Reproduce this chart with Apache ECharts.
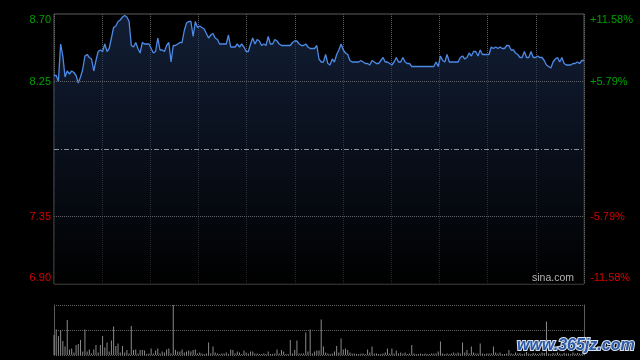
<!DOCTYPE html>
<html><head><meta charset="utf-8">
<script src="https://cdn.jsdelivr.net/npm/echarts@6/dist/echarts.min.js"></script>
<style>html,body{margin:0;padding:0;background:#000}#c{width:640px;height:360px}</style>
</head><body><div id="c"></div>
<script>
// Minute prices (09:30-11:30, 13:01-15:00)
const prices = [
8.29,8.29,8.25,8.50,8.42,8.28,8.32,8.30,8.32,8.31,
8.29,8.24,8.28,8.33,8.42,8.43,8.41,8.40,8.32,8.39,
8.45,8.46,8.45,8.50,8.45,8.47,8.54,8.61,8.62,8.65,
8.66,8.68,8.69,8.68,8.65,8.49,8.48,8.51,8.47,8.44,
8.51,8.50,8.50,8.50,8.47,8.44,8.45,8.54,8.46,8.46,
8.45,8.49,8.51,8.38,8.49,8.49,8.50,8.51,8.51,8.59,
8.64,8.65,8.65,8.55,8.65,8.61,8.62,8.61,8.60,8.57,
8.54,8.56,8.57,8.54,8.53,8.50,8.50,8.50,8.50,8.56,
8.48,8.48,8.48,8.50,8.48,8.50,8.48,8.45,8.45,8.50,
8.54,8.50,8.53,8.52,8.49,8.50,8.49,8.55,8.50,8.50,
8.53,8.52,8.50,8.49,8.49,8.49,8.49,8.49,8.51,8.52,
8.52,8.50,8.49,8.49,8.50,8.48,8.47,8.47,8.47,8.49,
8.40,8.38,8.38,8.43,8.37,8.36,8.40,8.38,8.43,8.46,
8.50,8.46,8.44,8.43,8.39,8.38,8.38,8.38,8.38,8.39,
8.38,8.37,8.37,8.36,8.39,8.38,8.37,8.37,8.39,8.41,
8.38,8.38,8.37,8.36,8.38,8.41,8.38,8.38,8.41,8.38,
8.37,8.37,8.35,8.35,8.35,8.35,8.35,8.35,8.35,8.35,
8.35,8.35,8.35,8.38,8.35,8.42,8.39,8.38,8.43,8.38,
8.38,8.38,8.38,8.38,8.41,8.42,8.40,8.41,8.44,8.42,
8.45,8.45,8.42,8.46,8.43,8.43,8.43,8.43,8.48,8.47,
8.48,8.47,8.48,8.47,8.47,8.49,8.49,8.46,8.46,8.44,
8.43,8.41,8.41,8.45,8.41,8.41,8.45,8.41,8.41,8.42,
8.41,8.41,8.39,8.36,8.35,8.34,8.38,8.40,8.41,8.38,
8.41,8.37,8.36,8.36,8.36,8.37,8.37,8.38,8.37,8.39,8.39
];
// Minute volumes (relative units)
const volumes = [
40,51,38,50,28,17,70,11,13,5,
20,22,30,7,51,7,11,3,11,20,
5,20,38,15,25,7,29,57,18,23,
5,18,5,10,3,58,10,11,3,10,
10,9,2,3,13,3,9,13,3,7,
5,11,13,3,100,10,7,7,11,5,
7,9,7,10,11,3,5,3,2,3,
25,3,17,5,3,2,3,3,5,2,
11,10,3,7,5,2,9,5,3,7,
7,3,3,2,2,3,2,7,2,2,
3,11,3,10,7,2,2,30,3,10,
29,3,3,3,45,7,51,3,7,9,
9,
71,17,5,3,2,3,7,18,5,
33,11,13,10,5,3,3,2,2,3,
3,2,11,5,17,3,3,2,2,3,
5,13,3,13,3,9,3,5,3,5,
2,3,20,3,2,2,3,2,3,2,
2,3,3,3,7,27,3,2,3,2,
3,5,3,5,3,25,5,10,3,17,
5,3,3,23,3,2,3,3,3,17,
5,3,5,2,2,3,10,3,2,5,
3,4,2,3,6,3,2,4,3,2,
3,5,4,67,3,2,4,3,5,3,
2,4,3,3,2,5,3,4,3,2,3
];
const priceMin = 6.90, priceMax = 8.70, prevClose = 7.80;
const priceGridLines = [8.25, 7.35];
const priceTickLabels = ['6.90', '7.35', '', '8.25', '8.70'];
const pctMin = -11.58, pctMax = 11.58, pctInterval = 5.79;
const pctTickLabels = ['-11.58%', '-5.79%', '', '+5.79%', '+11.58%'];
const volMax = 100;

const times = [];
function pad(n){return (n<10?'0':'')+n;}
for (let m = 9*60+30; m <= 11*60+30; m++) times.push(pad(Math.floor(m/60))+':'+pad(m%60));
for (let m = 13*60+1; m <= 15*60; m++) times.push(pad(Math.floor(m/60))+':'+pad(m%60));

const FONT = '"Liberation Sans", Arial, sans-serif';
const GREEN = '#00a000', RED = '#d40000';
const GRID = '#626262';
function rich() {
  const base = {fontSize: 11, fontFamily: FONT};
  return {
    g: Object.assign({color: GREEN}, base),
    gTop: Object.assign({color: GREEN, padding: [12,0,0,0]}, base),
    r: Object.assign({color: RED}, base),
    rBot: Object.assign({color: RED, padding: [0,0,12,0]}, base)
  };
}
function fmt(labels) {
  return function (v, i) {
    const t = labels[i];
    if (!t) return '';
    const key = i === labels.length - 1 ? 'gTop' : i === 0 ? 'rBot' : (i > 2 ? 'g' : 'r');
    return '{' + key + '|' + t + '}';
  };
}

const chart = echarts.init(document.getElementById('c'));
chart.setOption({
  animation: false,
  backgroundColor: '#000',
  grid: [
    {left: 54, right: 56, top: 14, height: 270, show: true, borderColor: '#5c5c5c', borderWidth: 1, backgroundColor: 'transparent'},
    {left: 54, right: 56, top: 305, height: 50}
  ],
  xAxis: [
    {type: 'category', gridIndex: 0, data: times, boundaryGap: false, show: false},
    {type: 'value', gridIndex: 0, min: 0, max: 11, interval: 1, z: 3,
     axisLine: {show: false}, axisTick: {show: false}, axisLabel: {show: false},
     splitLine: {show: true, lineStyle: {color: GRID, type: [1, 1], width: 1}}},
    {type: 'category', gridIndex: 1, data: times, boundaryGap: false, show: false}
  ],
  yAxis: [
    {type: 'value', gridIndex: 0, position: 'left', min: pctMin, max: pctMax, interval: pctInterval,
     axisLine: {show: false}, axisTick: {show: false}, splitLine: {show: false},
     axisLabel: {margin: 3, formatter: fmt(priceTickLabels), rich: rich()}},
    {type: 'value', gridIndex: 0, position: 'right', min: pctMin, max: pctMax, interval: pctInterval,
     axisLine: {show: false}, axisTick: {show: false}, splitLine: {show: false},
     axisLabel: {margin: 6, formatter: fmt(pctTickLabels), rich: rich()}},
    {type: 'value', gridIndex: 0, min: priceMin, max: priceMax, show: false, splitLine: {show: false}},
    {type: 'value', gridIndex: 1, position: 'left', min: 0, max: volMax, interval: volMax / 2,
     axisLine: {show: true, lineStyle: {color: '#5c5c5c'}}, axisTick: {show: false}, axisLabel: {show: false},
     splitLine: {show: true, lineStyle: {color: GRID, type: [1, 1]}}},
    {type: 'value', gridIndex: 1, position: 'right', min: 0, max: volMax,
     axisLine: {show: true, lineStyle: {color: '#5c5c5c'}}, axisTick: {show: false}, axisLabel: {show: false},
     splitLine: {show: false}}
  ],
  series: [
    {type: 'line', xAxisIndex: 0, yAxisIndex: 2, data: prices, showSymbol: false, symbol: 'none',
     lineStyle: {color: '#4d8ae6', width: 1.3},
     areaStyle: {origin: 'start', color: new echarts.graphic.LinearGradient(0, 0, 0, 1, [
       {offset: 0, color: 'rgba(30,50,88,0.85)'}, {offset: 1, color: 'rgba(0,0,0,0.9)'}])},
     markLine: {silent: true, symbol: 'none', label: {show: false}, animation: false,
       data: [
         {yAxis: priceGridLines[0], lineStyle: {color: GRID, type: [1, 1], width: 1}},
         {yAxis: priceGridLines[1], lineStyle: {color: GRID, type: [1, 1], width: 1}},
         {yAxis: prevClose, lineStyle: {color: '#8792a0', type: [5, 2, 1, 2], width: 1}}
       ]}
    },
    {type: 'bar', xAxisIndex: 2, yAxisIndex: 3, data: volumes, barWidth: 1,
     itemStyle: {color: '#8a8a8a'}}
  ],
  graphic: [
    {type: 'text', left: 532, top: 273, z: 10, style: {text: 'sina.com', font: '10.5px ' + FONT, fill: '#b4b4b4'}},
    {type: 'text', left: 516, top: 337, z: 10, style: {text: 'www.365jz.com', font: 'italic bold 16px ' + FONT,
      fill: '#2b5aa6', stroke: '#d8e0ee', lineWidth: 2}}
  ]
});
</script></body></html>
